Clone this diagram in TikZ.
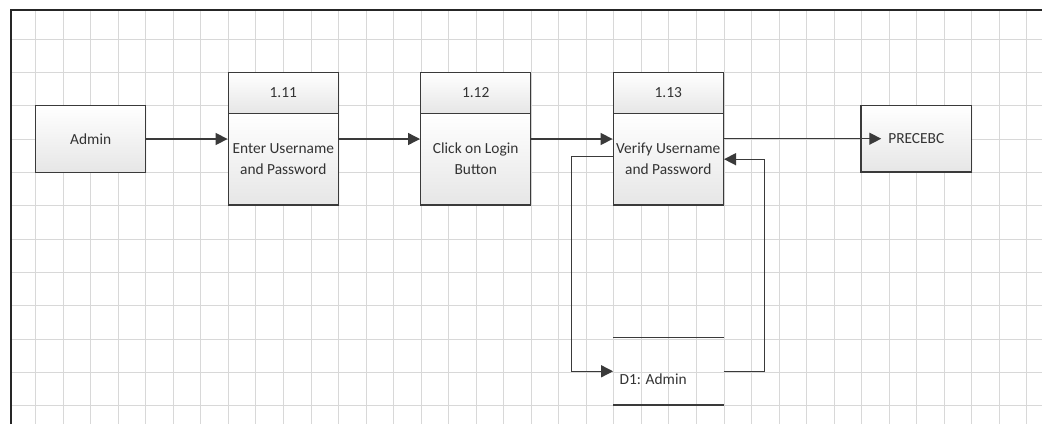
\documentclass[tikz,border=0pt]{standalone}
\usepackage{fontspec}
\setmainfont{Carlito}
\usetikzlibrary{arrows.meta,shadows}

\definecolor{gridc}{HTML}{D8D8D8}
\definecolor{linec}{HTML}{3A3A3A}
\definecolor{textc}{HTML}{333333}
\definecolor{fillb}{HTML}{E6E6E6}

\tikzset{
  lbl/.style={font=\fontsize{15.4}{21}\selectfont, text=textc},
  box/.style={lbl, draw=linec, line width=1.4pt, top color=white, bottom color=fillb,
    align=center, inner sep=0pt, drop shadow={opacity=0.07, shadow xshift=1.2pt, shadow yshift=-1.2pt}},
  head/.style={box, minimum width=110pt, minimum height=41pt},
  body/.style={box, minimum width=110pt, minimum height=91.7pt},
  entity/.style={box, minimum width=110pt, minimum height=66.5pt},
  store/.style={inner sep=0pt, minimum width=110pt, minimum height=67.3pt},
  flow/.style={draw=linec, line width=1.4pt, -{Triangle[length=12pt,width=12pt]}},
  gridline/.style={draw=gridc, line width=0.9pt},
  frame/.style={draw=black!85, line width=2pt}
}

\begin{document}
\begin{tikzpicture}[x=1pt, y=-1pt]
  \useasboundingbox (0,0) rectangle (1042,424);

  % background grid
  \foreach \k in {0,...,36}
    \draw[gridline] ({35.7+27.53*\k},10) -- ({35.7+27.53*\k},424);
  \foreach \k in {0,...,11}
    \draw[gridline] (11,{39+33.33*\k}) -- (1042,{39+33.33*\k});

  % page frame
  \draw[frame] (11,424) -- (11,10) -- (1042,10);

  % external entities
  \node[entity] (admin) at (90.7,139) {Admin};
  \node[entity, minimum width=110.7pt] (prec) at (916.3,138.7) {PRECEBC};

  % processes
  \node[head] (p11h) at (283.3,92.8) {1.11};
  \node[body] (p11)  at (283.3,159.2) {Enter Username\\and Password};
  \node[head] (p12h) at (475.7,92.8) {1.12};
  \node[body] (p12)  at (475.7,159.2) {Click on Login\\Button};
  \node[head] (p13h) at (668.3,92.8) {1.13};
  \node[body] (p13)  at (668.3,159.2) {Verify Username\\and Password};

  % data store
  \node[store] (d1) at (668.3,371.3) {};
  \draw[draw=linec, line width=1.4pt] (d1.north west) -- (d1.north east);
  \draw[draw=linec, line width=1.4pt] (d1.south west) -- (d1.south east);
  \node[lbl, anchor=west, inner sep=0pt] (d1t) at (619.5,379) {D1: Admin};

  % data flows
  \path[flow] (admin.east) -- (admin.east -| p11.west);
  \path[flow] (p11.east |- admin.east) -- (p12.west |- admin.east);
  \path[flow] (p12.east |- admin.east) -- (p13.west |- admin.east);
  \path[flow, shorten >=-21pt] (p13.east |- prec.west) -- (prec.west);
  \path[flow] (p13.west) ++(0,-3) -- ++(-41,0) |- (d1.west);
  \path[flow] (d1.east) -- ++(41,0) |- (p13.east);
\end{tikzpicture}
\end{document}
